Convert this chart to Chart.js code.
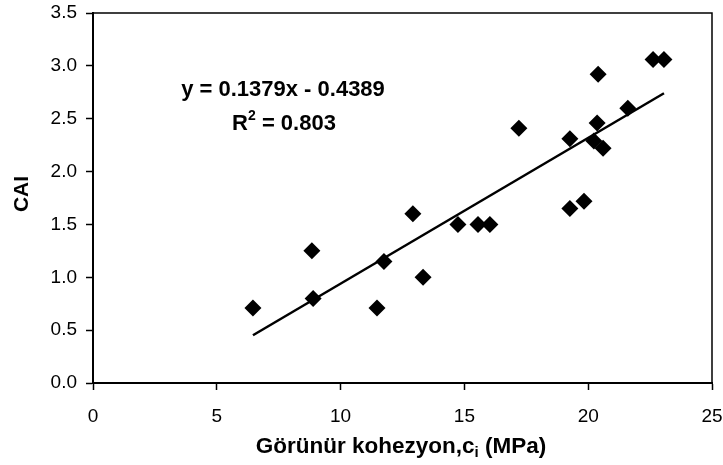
<!DOCTYPE html>
<html>
<head>
<meta charset="utf-8">
<script src="https://cdn.jsdelivr.net/npm/chart.js@4/dist/chart.umd.min.js"></script>
<style>
  body { margin: 0; background: #fff; }
  canvas { display: block; }
</style>
</head>
<body>
<canvas id="chart" width="723" height="465"></canvas>
<script>
// cohesion (MPa) and CAI values
const cohesion = [6.46, 8.84, 8.89, 11.47, 11.75, 12.92, 13.33, 14.74, 15.55, 16.03, 17.2,
                  19.26, 19.83, 19.26, 20.36, 20.4, 20.23, 20.6, 21.6, 22.62, 23.06];
const cai      = [0.71, 1.25, 0.80, 0.71, 1.15, 1.60, 1.00, 1.50, 1.50, 1.50, 2.41,
                  1.65, 1.72, 2.31, 2.46, 2.92, 2.29, 2.22, 2.60, 3.06, 3.06];

// regression shown on the chart
const slope = 0.1379;
const intercept = -0.4389;
const rSquared = '0.803';

const xTicks = [0, 5, 10, 15, 20, 25];
const yTicks = [0, 0.5, 1, 1.5, 2, 2.5, 3, 3.5];

const FONT = '"Liberation Sans", Arial, sans-serif';

const points = cohesion.map((x, i) => ({ x: x, y: cai[i] }));
const xMin = Math.min(...cohesion), xMax = Math.max(...cohesion);
const trend = [
    { x: xMin, y: slope * xMin + intercept },
    { x: xMax, y: slope * xMax + intercept }
];

// titles, equation and the frame round the plot
const decor = {
    id: 'decor',
    afterDraw(chart) {
        const ctx = chart.ctx;
        const a = chart.chartArea;
        ctx.save();
        ctx.strokeStyle = '#000';
        ctx.lineWidth = 1.5;
        ctx.beginPath();
        ctx.moveTo(a.left, a.top);
        ctx.lineTo(a.right, a.top);
        ctx.lineTo(a.right, a.bottom);
        ctx.stroke();

        ctx.fillStyle = '#000';
        ctx.textBaseline = 'alphabetic';

        // x title with subscript i
        const big = 'bold 22.5px ' + FONT, small = 'bold 15px ' + FONT;
        const p1 = 'Görünür kohezyon,c', p2 = 'i', p3 = ' (MPa)';
        ctx.font = big;
        const w1 = ctx.measureText(p1).width, w3 = ctx.measureText(p3).width;
        ctx.font = small;
        const w2 = ctx.measureText(p2).width;
        let x = 401 - (w1 + w2 + w3) / 2;
        ctx.font = big; ctx.textAlign = 'left';
        ctx.fillText(p1, x, 453); x += w1;
        ctx.font = small;
        ctx.fillText(p2, x, 457); x += w2;
        ctx.font = big;
        ctx.fillText(p3, x, 453);

        // y title
        ctx.save();
        ctx.translate(28, 194);
        ctx.rotate(-Math.PI / 2);
        ctx.font = 'bold 21px ' + FONT;
        ctx.textAlign = 'center';
        ctx.fillText('CAI', 0, 0);
        ctx.restore();

        // regression text
        const eqFont = 'bold 22px ' + FONT, supFont = 'bold 14px ' + FONT;
        const eq = 'y = ' + slope.toFixed(4) + 'x - ' + Math.abs(intercept).toFixed(4);
        ctx.font = eqFont;
        ctx.textAlign = 'center';
        ctx.fillText(eq, 283, 96);

        const r1 = 'R', r2 = '2', r3 = ' = ' + rSquared;
        const a1 = ctx.measureText(r1).width, a3 = ctx.measureText(r3).width;
        ctx.font = supFont;
        const a2 = ctx.measureText(r2).width;
        let rx = 284 - (a1 + a2 + a3) / 2;
        ctx.textAlign = 'left';
        ctx.font = eqFont; ctx.fillText(r1, rx, 130); rx += a1;
        ctx.font = supFont; ctx.fillText(r2, rx, 120); rx += a2;
        ctx.font = eqFont; ctx.fillText(r3, rx, 130);
        ctx.restore();
    }
};

new Chart(document.getElementById('chart'), {
    type: 'scatter',
    data: {
        datasets: [{
            data: points,
            pointStyle: 'rectRot',
            pointRadius: 8.5,
            pointHoverRadius: 8.5,
            backgroundColor: '#000',
            borderColor: '#000',
            borderWidth: 0
        }, {
            type: 'line',
            data: trend,
            borderColor: '#000',
            borderWidth: 2.5,
            pointRadius: 0,
            fill: false
        }]
    },
    options: {
        responsive: false,
        animation: false,
        events: [],
        layout: { autoPadding: false, padding: { top: 13, right: 11, left: 0, bottom: 0 } },
        plugins: { legend: { display: false }, tooltip: { enabled: false } },
        scales: {
            x: {
                type: 'linear',
                min: 0, max: 25,
                afterFit: s => { s.height = 82; s.paddingLeft = 0; s.paddingRight = 0; },
                afterBuildTicks: s => { s.ticks = xTicks.map(v => ({ value: v })); },
                grid: { drawOnChartArea: false, drawTicks: true, tickLength: 7, tickColor: '#000', tickWidth: 1.5 },
                border: { display: true, color: '#000', width: 2 },
                ticks: { color: '#000', padding: 15, font: { family: FONT, size: 19 } }
            },
            y: {
                min: 0, max: 3.5,
                afterFit: s => { s.width = 93; s.paddingTop = 0; s.paddingBottom = 0; },
                afterBuildTicks: s => { s.ticks = yTicks.map(v => ({ value: v })); },
                grid: { drawOnChartArea: false, drawTicks: true, tickLength: 7, tickColor: '#000', tickWidth: 1.5 },
                border: { display: true, color: '#000', width: 2 },
                ticks: { color: '#000', padding: 9, font: { family: FONT, size: 19 },
                         callback: v => Number(v).toFixed(1) }
            }
        }
    },
    plugins: [decor]
});
</script>
</body>
</html>
